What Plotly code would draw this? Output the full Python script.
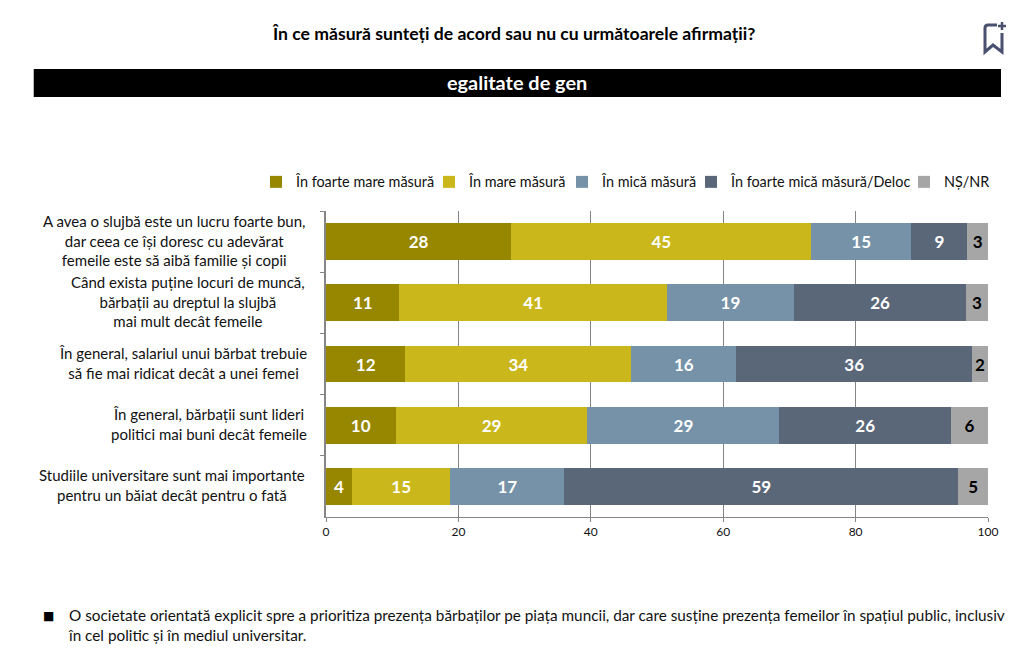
import plotly.graph_objects as go

W, H = 1031, 668
L, R, T, B = 325.5, 988.0, 211.0, 517.0
FONT = "Lato"

categories = ["cat1", "cat2", "cat3", "cat4", "cat5"]
category_texts = [
    "A avea o slujbă este un lucru foarte bun,<br>dar ceea ce își doresc cu adevărat<br>femeile este să aibă familie și copii",
    "Când exista puține locuri de muncă,<br>bărbații au dreptul la slujbă<br>mai mult decât femeile",
    "În general, salariul unui bărbat trebuie<br>să fie mai ridicat decât a unei femei",
    "În general, bărbații sunt lideri<br>politici mai buni decât femeile",
    "Studiile universitare sunt mai importante<br>pentru un băiat decât pentru o fată",
]
series_names = ["În foarte mare măsură", "În mare măsură", "În mică măsură",
                "În foarte mică măsură/Deloc", "NȘ/NR"]
s1 = [28.0, 11.1, 12.0, 10.5, 3.9]
s2 = [45.3, 40.4, 34.1, 29.0, 14.9]
s3 = [15.1, 19.2, 15.9, 29.0, 17.2]
s4 = [8.5, 26.0, 35.6, 25.9, 59.5]
s5 = [3.1, 3.3, 2.4, 5.6, 4.5]
l1 = ["28", "11", "12", "10", "4"]
l2 = ["45", "41", "34", "29", "15"]
l3 = ["15", "19", "16", "29", "17"]
l4 = ["9", "26", "36", "26", "59"]
l5 = ["3", "3", "2", "6", "5"]
colors = ["#968600", "#C9B71B", "#7592A8", "#5A6779", "#A6A6A6"]
label_colors = ["white", "white", "white", "white", "black"]
x_ticks = [0, 20, 40, 60, 80, 100]
legend_text_x = [296, 469, 602, 731, 944]

def px(x): return (x - L) / (R - L)
def py(y): return (B - y) / (B - T)

fig = go.Figure()
legend_ids = ["legend", "legend2", "legend3", "legend4", "legend5"]
for name, vals, labs, col, lc, lid in zip(series_names, [s1, s2, s3, s4, s5],
                                          [l1, l2, l3, l4, l5], colors, label_colors, legend_ids):
    fig.add_trace(go.Bar(
        name=name, y=categories, x=vals, orientation="h", marker=dict(color=col, line_width=0),
        text=labs, textposition="inside", insidetextanchor="middle", textangle=0,
        constraintext="none", legend=lid,
        textfont=dict(family=FONT, size=17, color=lc, weight="bold"),
    ))

icon = "#4A5070"
shapes = [
    dict(type="rect", xref="paper", yref="paper", x0=px(33), x1=px(1001), y0=py(97), y1=py(69),
         fillcolor="black", line_width=0, layer="below"),
    dict(type="path", xref="paper", yref="paper", line=dict(color=icon, width=3),
         path=f"M {px(1002)} {py(33)} L {px(1002)} {py(52)} L {px(993)} {py(45)} L {px(985)} {py(52)} "
              f"L {px(985)} {py(28)} Q {px(985)} {py(25)} {px(988)} {py(25)} L {px(997)} {py(25)}"),
    dict(type="path", xref="paper", yref="paper", line=dict(color=icon, width=2.5),
         path=f"M {px(1002)} {py(22)} L {px(1002)} {py(30)} M {px(998)} {py(26)} L {px(1006)} {py(26)}"),
]

ann = [
    dict(text="<b>În ce măsură sunteți de acord sau nu cu următoarele afirmații?</b>", xref="paper", yref="paper",
         x=px(513), y=py(33), xanchor="center", yanchor="middle", showarrow=False,
         font=dict(family=FONT, size=17.6, color="black")),
    dict(text="<b>egalitate de gen</b>", xref="paper", yref="paper", x=px(517), y=py(82),
         xanchor="center", yanchor="middle", showarrow=False, font=dict(family=FONT, size=19.9, color="white")),
    dict(text="■", xref="paper", yref="paper", x=px(48), y=py(616), xanchor="center", yanchor="middle",
         showarrow=False, font=dict(family="DejaVu Sans", size=12, color="black")),
    dict(text="O societate orientată explicit spre a prioritiza prezența bărbaților pe piața muncii, dar care susține prezența femeilor în spațiul public, inclusiv<br>în cel politic și în mediul universitar.",
         xref="paper", yref="paper", x=px(65), y=py(625), xanchor="left", yanchor="middle", align="left",
         showarrow=False, font=dict(family=FONT, size=15.3, color="#111111")),
]
right_edges = [306, 306, 308, 308, 306]
for c, t, r in zip(categories, category_texts, right_edges):
    ann.append(dict(text=t, xref="paper", yref="y", x=px(r), y=c, yshift=1, xanchor="right", yanchor="middle",
                    align="center", showarrow=False, font=dict(family=FONT, size=15, color="#111111")))

legends = {}
for lid, tx in zip(legend_ids, legend_text_x):
    legends[lid] = dict(xref="container", yref="container", x=(tx - 40) / W, y=1 - 182 / H,
                        xanchor="left", yanchor="middle", orientation="h", itemwidth=30,
                        bgcolor="rgba(0,0,0,0)", itemclick=False, itemdoubleclick=False,
                        font=dict(family=FONT, size=14.4, color="#111111"))

fig.update_layout(
    width=W, height=H, margin=dict(l=L, r=W - R, t=T, b=H - B, autoexpand=False),
    barmode="stack", bargap=0.4, plot_bgcolor="white", paper_bgcolor="white", showlegend=True,
    shapes=shapes, annotations=ann, font=dict(family=FONT, color="#111111"),
    xaxis=dict(range=[0, 100], tickmode="array", tickvals=x_ticks, showgrid=True, gridcolor="#868686",
               gridwidth=1, zeroline=False, showline=True, linecolor="#868686", ticks="outside", ticklen=4,
               tickcolor="#868686", tickfont=dict(family=FONT, size=12, color="#111111")),
    yaxis=dict(autorange="reversed", categoryorder="array", categoryarray=categories, showticklabels=False,
               showline=True, linecolor="#868686", linewidth=1.5, ticks="outside", ticklen=4, tickcolor="#868686",
               tickson="boundaries", showgrid=False),
    **legends,
)
fig.write_html("out.html", config={"displayModeBar": False}, post_script="document.body.style.margin='0';")
